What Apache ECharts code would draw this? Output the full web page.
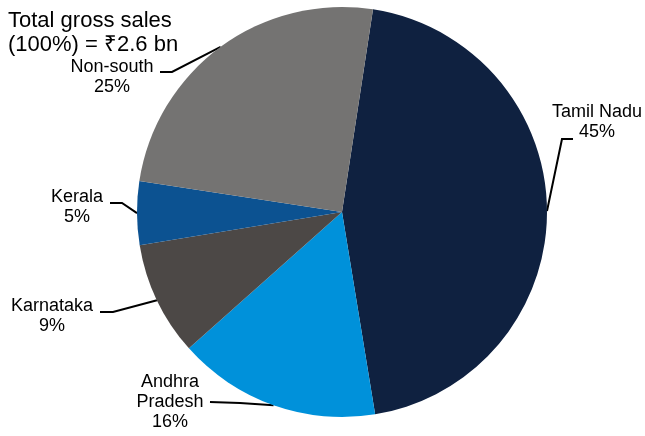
<!DOCTYPE html>
<html>
<head>
<meta charset="utf-8">
<script src="https://cdn.jsdelivr.net/npm/echarts@6/dist/echarts.min.js"></script>
<style>html,body{margin:0;padding:0;background:#fff}#c{width:645px;height:436px}</style>
</head>
<body>
<div id="c"></div>
<script>
const categories = ['Tamil Nadu', 'Andhra Pradesh', 'Karnataka', 'Kerala', 'Non-south'];
const values = [45, 16, 9, 5, 25];
const labelNames = ['Tamil Nadu', 'Andhra\nPradesh', 'Karnataka', 'Kerala', 'Non-south'];
const colors = ['#0f2140', '#0091da', '#4c4846', '#0c5291', '#747372'];
const titleText = 'Total gross sales\n(100%) = \u20B92.6 bn';

// label annotation layout (label centre, elbow, line end)
const labelPos = [[597, 122], [170, 402], [52, 316], [77, 207], [112, 77]];
const elbowPts = [[562, 139], [240, 403], [113, 312], [122, 203], [172, 72]];
const endPts = [[573, 139], [210, 402], [100, 312], [110, 203], [160, 72]];

const chart = echarts.init(document.getElementById('c'));
const FONT = '"Liberation Sans", Arial, sans-serif';
chart.setOption({
  animation: false,
  title: {
    text: titleText,
    left: 3, top: 4,
    textStyle: { fontFamily: FONT, fontSize: 22, fontWeight: 'normal', color: '#000', lineHeight: 24 }
  },
  series: [{
    type: 'pie',
    center: [342, 212],
    radius: 205,
    startAngle: 81.3,
    clockwise: true,
    avoidLabelOverlap: false,
    itemStyle: { borderWidth: 0 },
    label: {
      show: true,
      position: 'outside',
      fontFamily: FONT,
      fontSize: 18,
      lineHeight: 20,
      color: '#000',
      align: 'center',
      formatter: p => labelNames[p.dataIndex] + '\n' + values[p.dataIndex] + '%'
    },
    labelLine: { show: true, lineStyle: { color: '#000', width: 2 } },
    labelLayout: function (params) {
      const i = params.dataIndex;
      const p0 = params.labelLinePoints ? params.labelLinePoints[0] : elbowPts[i];
      return {
        x: labelPos[i][0], y: labelPos[i][1],
        align: 'center', verticalAlign: 'middle',
        labelLinePoints: [p0, elbowPts[i], endPts[i]]
      };
    },
    data: categories.map((c, i) => ({ name: c, value: values[i], itemStyle: { color: colors[i] } }))
  }]
});
</script>
</body>
</html>
